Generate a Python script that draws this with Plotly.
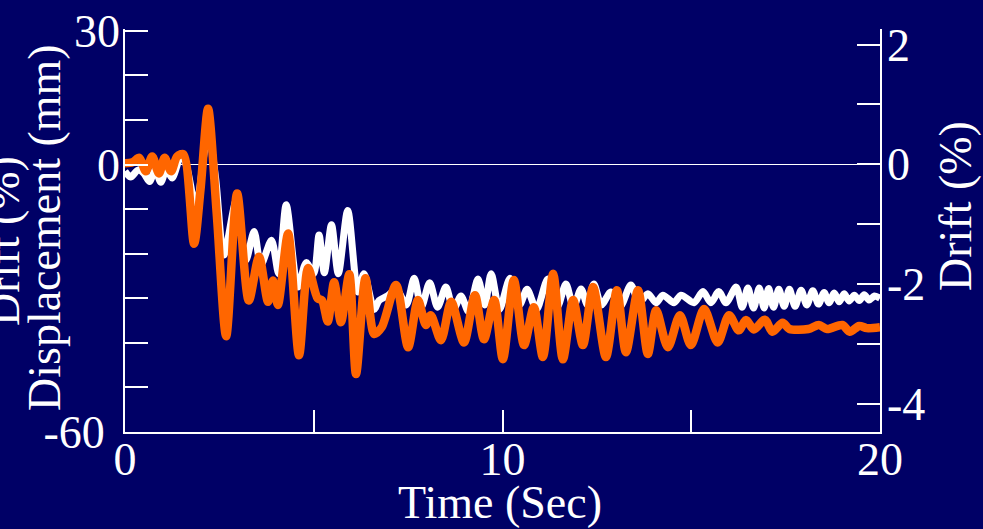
import plotly.graph_objects as go

# ---------------- data ----------------
t_orange = [0.0, 0.2, 0.38, 0.55, 0.72, 0.9, 1.05, 1.22, 1.38, 1.55, 1.83, 2.0, 2.2, 2.43, 2.68,
            2.97, 3.28, 3.55, 3.79, 3.92, 4.05, 4.32, 4.61, 4.85, 5.1, 5.22, 5.37, 5.54, 5.72,
            5.94, 6.12, 6.37, 6.6, 6.8, 7.18, 7.5, 7.76, 7.97, 8.1, 8.37, 8.64, 8.98, 9.27,
            9.51, 9.78, 10.01, 10.3, 10.57, 10.83, 11.07, 11.34, 11.6, 11.87, 12.13, 12.4,
            12.74, 13.03, 13.27, 13.59, 13.85, 14.07, 14.38, 14.7, 14.99, 15.34, 15.7, 16.0,
            16.26, 16.45, 16.66, 16.95, 17.15, 17.42, 17.6, 18.1, 18.38, 18.6, 19.0, 19.2,
            19.45, 19.65, 20.0]
d_orange = [0.3, 0.5, 1.5, -1.5, 1.8, -2.0, 1.5, -1.5, 1.8, 2.3, -17.8, -5.6, 12.5, -11.0, -38.5,
            -6.5, -30.5, -20.7, -30.8, -26.0, -31.5, -15.5, -42.8, -23.2, -30.0, -30.5, -35.2, -26.4, -35.4,
            -24.6, -47.0, -25.5, -38.0, -36.5, -27.0, -41.0, -30.4, -36.0, -33.8, -39.4, -30.8, -39.9, -29.3,
            -39.2, -30.4, -43.7, -25.9, -40.5, -32.0, -43.2, -24.5, -43.7, -30.4, -40.5, -27.5,
            -43.2, -28.2, -42.1, -28.2, -42.5, -32.7, -41.0, -33.8, -40.5, -32.4, -39.9, -33.8,
            -37.2, -34.9, -37.0, -34.8, -37.5, -35.5, -36.9, -36.9, -36.0, -36.9, -36.0, -37.5,
            -36.2, -36.7, -36.5]

t_white = [0.0, 0.15, 0.35, 0.5, 0.65, 0.8, 0.95, 1.1, 1.25, 1.5, 1.65, 1.88, 2.2, 2.4, 2.62,
           2.95, 3.2, 3.42, 3.6, 3.88, 4.07, 4.27, 4.58, 4.8, 5.0, 5.14, 5.28, 5.47, 5.65, 5.9,
           6.17, 6.33, 6.6, 6.73, 6.95, 7.2, 7.45, 7.66, 7.85, 8.07, 8.28, 8.5, 8.7, 8.9, 9.1,
           9.35, 9.53, 9.7, 9.92, 10.2, 10.45, 10.65, 10.9, 11.2, 11.45, 11.68, 11.88, 12.08,
           12.25, 12.42, 12.62, 12.87, 13.12, 13.4, 13.62, 13.85, 14.07, 14.25, 14.54, 14.73,
           15.07, 15.31, 15.52, 15.73, 15.92, 16.19, 16.35, 16.5, 16.65, 16.8, 16.93, 17.05,
           17.18, 17.32, 17.46, 17.6, 17.75, 17.91, 18.06, 18.22, 18.37, 18.52, 18.65, 18.79,
           18.92, 19.05, 19.18, 19.32, 19.45, 19.58, 19.71, 19.85, 20.0]
d_white = [-1.5, -2.8, -1.2, -2.0, -3.8, -1.2, -4.0, -1.0, -3.0, 2.5, -1.0, -9.5, 7.5, -3.0, -20.3,
           -8.0, -21.5, -15.0, -22.5, -17.0, -24.5, -9.0, -27.5, -22.0, -24.5, -15.8, -24.3, -13.5, -24.5, -10.3,
           -28.6, -24.5, -32.5, -30.5, -29.5, -28.0, -31.5, -25.5, -32.0, -26.5, -32.0, -27.5, -32.5, -29.5, -33.0,
           -25.7, -31.5, -24.5, -32.5, -25.5, -31.5, -28.0, -32.5, -25.7, -32.0, -26.8, -32.0, -27.9,
           -31.5, -26.8, -31.5, -28.6, -31.8, -27.0, -31.0, -29.0, -31.0, -29.3, -31.0, -29.3,
           -31.0, -28.5, -31.0, -28.5, -31.0, -27.5, -32.0, -27.7, -32.2, -27.7, -32.2, -27.8,
           -32.0, -28.0, -31.8, -28.0, -31.8, -28.2, -31.5, -28.3, -31.3, -28.7, -31.0, -28.8,
           -30.8, -29.0, -30.6, -29.3, -30.5, -29.2, -30.4, -29.5, -30.0]

x_ticks = [0, 5, 10, 15, 20]
x_ticktext = ["0", "", "10", "", "20"]
y_ticks = [-60, -50, -40, -30, -20, -10, 0, 10, 20, 30]
y_ticktext = ["-60\u00a0\u200a", "", "", "", "", "", "0", "", "", "30"]
y2_ticks = [-4, -3, -2, -1, 0, 1, 2]
y2_ticktext = ["-4", "", "-2", "", "0", "", "2"]

# ---------------- style ----------------
BG = "#000066"
FONT = "Liberation Serif, Times New Roman, serif"
FS = 46

fig = go.Figure()
fig.add_trace(go.Scatter(x=t_white, y=d_white, mode="lines",
                         line=dict(color="white", width=7, shape="spline", smoothing=0.8),
                         showlegend=False, hoverinfo="skip"))
fig.add_trace(go.Scatter(x=t_orange, y=d_orange, mode="lines",
                         line=dict(color="#FF6600", width=8.5, shape="spline", smoothing=0.8),
                         showlegend=False, hoverinfo="skip"))
# empty trace so that the right-hand drift axis is created
fig.add_trace(go.Scatter(x=[], y=[], yaxis="y2", mode="lines",
                         showlegend=False, hoverinfo="skip"))

axis_common = dict(showgrid=False, ticks="inside", tickcolor="white", tickwidth=1.5,
                   showline=True, linecolor="white", linewidth=1.5, automargin=False,
                   tickfont=dict(family=FONT, size=FS, color="white"))

fig.update_layout(
    template="none",
    width=983, height=529,
    margin=dict(l=125, r=103, t=29, b=97, pad=0),
    paper_bgcolor=BG, plot_bgcolor=BG,
    showlegend=False,
    xaxis=dict(range=[0, 20], tickvals=x_ticks, ticktext=x_ticktext, ticklen=22,
               zeroline=False, ticklabelstandoff=-14, **axis_common),
    yaxis=dict(range=[-60, 30.4], tickvals=y_ticks, ticktext=y_ticktext, ticklen=23,
               zeroline=True, zerolinecolor="white", zerolinewidth=1,
               ticklabelstandoff=-6, layer="above traces", **axis_common),
    yaxis2=dict(range=[-4.47, 2.26], tickvals=y2_ticks, ticktext=y2_ticktext, ticklen=23,
                overlaying="y", side="right", anchor="x", zeroline=False,
                ticklabelstandoff=-4, **axis_common),
    annotations=[
        dict(text="Time (Sec)", xref="paper", yref="paper", x=0.497, y=-0.174,
             xanchor="center", yanchor="middle", showarrow=False,
             font=dict(family=FONT, size=FS, color="white")),
        dict(text="Displacement (mm)", xref="paper", yref="paper", x=(44 - 125) / 755,
             y=(432 - 228) / 403, xanchor="center", yanchor="middle", textangle=-90,
             showarrow=False, font=dict(family=FONT, size=FS, color="white")),
        dict(text="Drift (%)", xref="paper", yref="paper", x=(3 - 125) / 755,
             y=(432 - 241) / 403, xanchor="center", yanchor="middle", textangle=-90,
             showarrow=False, font=dict(family=FONT, size=FS, color="white")),
        dict(text="Drift (%)", xref="paper", yref="paper", x=(955 - 125) / 755,
             y=(432 - 206) / 403, xanchor="center", yanchor="middle", textangle=-90,
             showarrow=False, font=dict(family=FONT, size=FS, color="white")),
    ],
)

fig.write_html("out.html")
